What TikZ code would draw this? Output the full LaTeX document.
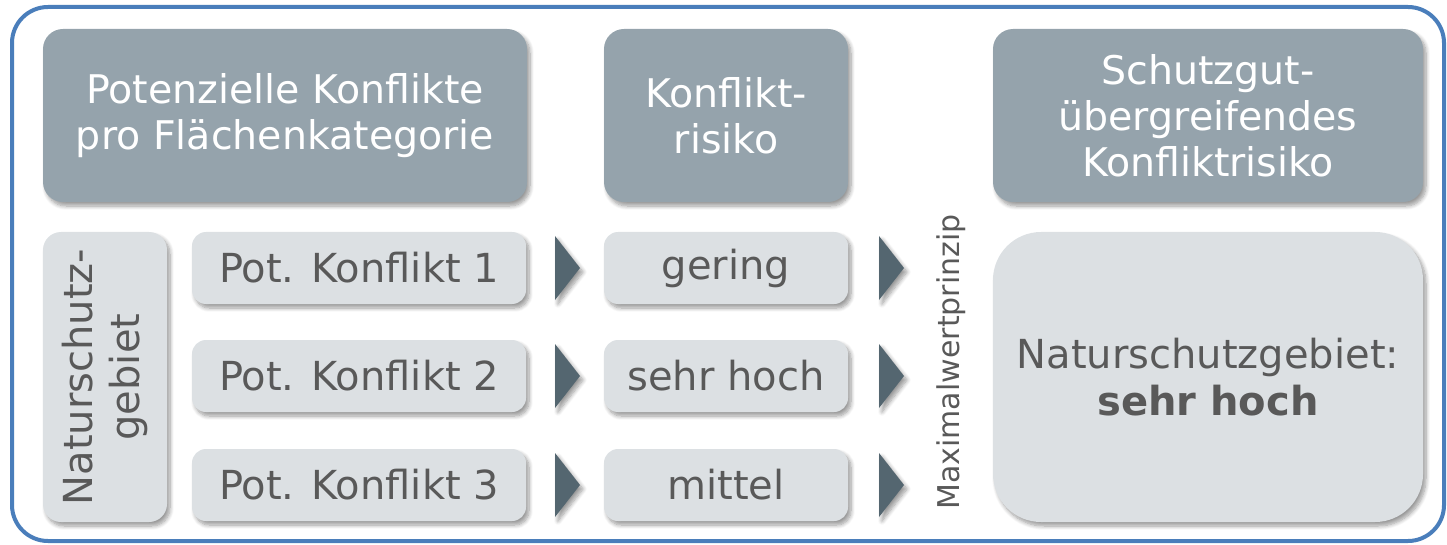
\documentclass[tikz,border=0pt]{standalone}
\usepackage{fontspec}
\setmainfont{DejaVu Sans}
\usetikzlibrary{shadows,shadows.blur}
\definecolor{hdrfill}{HTML}{95A3AC}
\definecolor{lightfill}{HTML}{DCE0E3}
\definecolor{arrfill}{HTML}{546670}
\definecolor{txtgray}{HTML}{595959}
\definecolor{frameblue}{HTML}{4A7EBB}
\tikzset{
  shd/.style={blur shadow={shadow xshift=3pt,shadow yshift=-4pt,shadow blur radius=4pt,shadow opacity=40,shadow blur steps=8}},
  hdr/.style={fill=hdrfill,rounded corners=20pt,shd,text=white,align=center,
    font=\fontsize{39.5}{46}\selectfont,inner sep=0pt},
  lbox/.style={fill=lightfill,rounded corners=14pt,shd,text=txtgray,align=center,
    font=\fontsize{40}{47}\selectfont,inner sep=0pt},
  chev/.pic={\fill[arrfill,shd] (-12,-32) -- (13,0) -- (-12,32) -- cycle;},
}
\begin{document}
\begin{tikzpicture}[x=1pt,y=-1pt]
\useasboundingbox (0,0) rectangle (1447,545);
% outer frame
\draw[frameblue,line width=4pt,rounded corners=36pt] (12,7) rectangle (1444,541);
% headers
\node[hdr,minimum width=484pt,minimum height=173pt] (h1) at (285,115.5)
  {Potenzielle Konflikte\\pro Flächenkategorie};
\node[hdr,minimum width=244pt,minimum height=173pt] (h2) at (726,115.5)
  {Konflikt-\\risiko};
\node[hdr,minimum width=430pt,minimum height=173pt] (h3) at (1208,115.5)
  {Schutzgut-\\übergreifendes\\Konfliktrisiko};
% vertical area box
\node[lbox,minimum width=124pt,minimum height=290pt,rounded corners=18pt] (ng) at (105,377) {};
\node[rotate=90,text=txtgray,align=center,font=\fontsize{40}{47}\selectfont] (ngt) at (ng.center)
  {Naturschutz-\\gebiet};
% potential conflicts
\node[lbox,minimum width=334pt,minimum height=72pt] (p1) at (359,268) {Pot. Konflikt 1};
\node[lbox,minimum width=334pt,minimum height=72pt] (p2) at (359,376) {Pot. Konflikt 2};
\node[lbox,minimum width=334pt,minimum height=72pt] (p3) at (359,485) {Pot. Konflikt 3};
% risks
\node[lbox,minimum width=244pt,minimum height=72pt] (r1) at (726,268) {gering};
\node[lbox,minimum width=244pt,minimum height=72pt] (r2) at (726,376) {sehr hoch};
\node[lbox,minimum width=244pt,minimum height=72pt] (r3) at (726,485) {mittel};
% chevrons
\coordinate (a1) at (567,268);
\coordinate (a2) at (567,376);
\coordinate (a3) at (567,485);
\coordinate (b1) at (891,268);
\coordinate (b2) at (891,376);
\coordinate (b3) at (891,485);
\foreach \c in {a1,a2,a3,b1,b2,b3} \pic at (\c) {chev};
% Maximalwertprinzip
\node[rotate=90,text=txtgray,font=\fontsize{30}{34}\selectfont] (mx) at (951,362) {Maximalwertprinzip};
% result box
\node[lbox,minimum width=430pt,minimum height=290pt,rounded corners=48pt] (res) at (1208,377)
  {Naturschutzgebiet:\\\textbf{sehr hoch}};
\end{tikzpicture}
\end{document}
